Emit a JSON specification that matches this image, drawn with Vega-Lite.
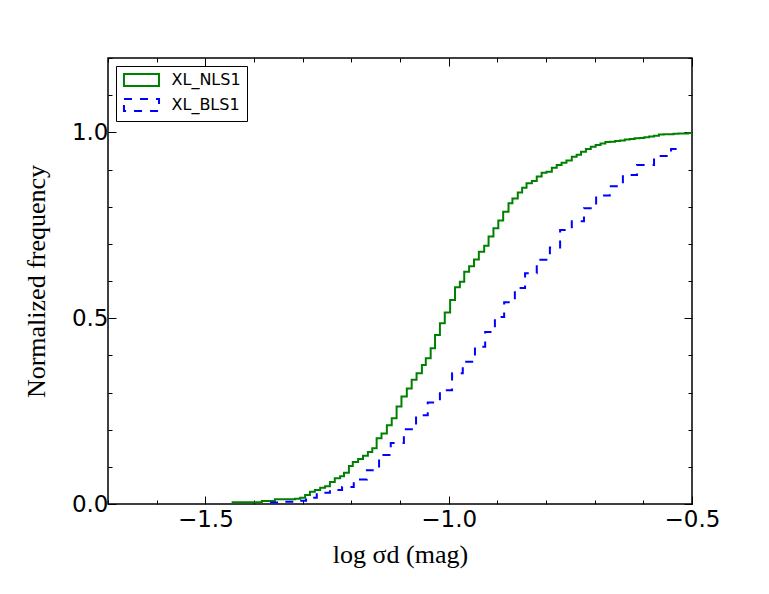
{
  "$schema": "https://vega.github.io/schema/vega-lite/v6.json",
  "width": 584,
  "height": 446,
  "autosize": {"type": "none"},
  "padding": {"left": 108, "top": 58, "right": 77, "bottom": 90},
  "background": "white",
  "config": {
    "view": {"stroke": "black", "strokeWidth": 1.5},
    "axis": {
      "domain": false,
      "grid": false,
      "tickColor": "black",
      "tickWidth": 1,
      "labelFont": "DejaVu Sans",
      "labelFontSize": 23,
      "labelColor": "black",
      "titleFont": "Liberation Serif",
      "titleFontSize": 26,
      "titleFontWeight": "normal",
      "titleColor": "black"
    }
  },
  "data": {
    "values": [
      {"series": "XL_NLS1", "x": -1.446, "y": 0.005},
      {"series": "XL_NLS1", "x": -1.384, "y": 0.008},
      {"series": "XL_NLS1", "x": -1.357, "y": 0.013},
      {"series": "XL_NLS1", "x": -1.316, "y": 0.014},
      {"series": "XL_NLS1", "x": -1.305, "y": 0.017},
      {"series": "XL_NLS1", "x": -1.295, "y": 0.024},
      {"series": "XL_NLS1", "x": -1.285, "y": 0.033},
      {"series": "XL_NLS1", "x": -1.275, "y": 0.038},
      {"series": "XL_NLS1", "x": -1.264, "y": 0.044},
      {"series": "XL_NLS1", "x": -1.254, "y": 0.048},
      {"series": "XL_NLS1", "x": -1.244, "y": 0.059},
      {"series": "XL_NLS1", "x": -1.234, "y": 0.069},
      {"series": "XL_NLS1", "x": -1.223, "y": 0.075},
      {"series": "XL_NLS1", "x": -1.215, "y": 0.084},
      {"series": "XL_NLS1", "x": -1.205, "y": 0.102},
      {"series": "XL_NLS1", "x": -1.197, "y": 0.113},
      {"series": "XL_NLS1", "x": -1.186, "y": 0.121},
      {"series": "XL_NLS1", "x": -1.176, "y": 0.130},
      {"series": "XL_NLS1", "x": -1.166, "y": 0.140},
      {"series": "XL_NLS1", "x": -1.157, "y": 0.150},
      {"series": "XL_NLS1", "x": -1.148, "y": 0.177},
      {"series": "XL_NLS1", "x": -1.138, "y": 0.190},
      {"series": "XL_NLS1", "x": -1.127, "y": 0.212},
      {"series": "XL_NLS1", "x": -1.117, "y": 0.231},
      {"series": "XL_NLS1", "x": -1.107, "y": 0.262},
      {"series": "XL_NLS1", "x": -1.097, "y": 0.289},
      {"series": "XL_NLS1", "x": -1.086, "y": 0.311},
      {"series": "XL_NLS1", "x": -1.076, "y": 0.334},
      {"series": "XL_NLS1", "x": -1.066, "y": 0.352},
      {"series": "XL_NLS1", "x": -1.055, "y": 0.374},
      {"series": "XL_NLS1", "x": -1.047, "y": 0.392},
      {"series": "XL_NLS1", "x": -1.037, "y": 0.419},
      {"series": "XL_NLS1", "x": -1.028, "y": 0.455},
      {"series": "XL_NLS1", "x": -1.018, "y": 0.486},
      {"series": "XL_NLS1", "x": -1.008, "y": 0.515},
      {"series": "XL_NLS1", "x": -0.997, "y": 0.549},
      {"series": "XL_NLS1", "x": -0.987, "y": 0.583},
      {"series": "XL_NLS1", "x": -0.977, "y": 0.598},
      {"series": "XL_NLS1", "x": -0.968, "y": 0.625},
      {"series": "XL_NLS1", "x": -0.958, "y": 0.640},
      {"series": "XL_NLS1", "x": -0.948, "y": 0.658},
      {"series": "XL_NLS1", "x": -0.938, "y": 0.679},
      {"series": "XL_NLS1", "x": -0.927, "y": 0.695},
      {"series": "XL_NLS1", "x": -0.918, "y": 0.720},
      {"series": "XL_NLS1", "x": -0.908, "y": 0.742},
      {"series": "XL_NLS1", "x": -0.898, "y": 0.763},
      {"series": "XL_NLS1", "x": -0.888, "y": 0.786},
      {"series": "XL_NLS1", "x": -0.877, "y": 0.809},
      {"series": "XL_NLS1", "x": -0.869, "y": 0.822},
      {"series": "XL_NLS1", "x": -0.858, "y": 0.838},
      {"series": "XL_NLS1", "x": -0.849, "y": 0.851},
      {"series": "XL_NLS1", "x": -0.840, "y": 0.863},
      {"series": "XL_NLS1", "x": -0.829, "y": 0.869},
      {"series": "XL_NLS1", "x": -0.819, "y": 0.881},
      {"series": "XL_NLS1", "x": -0.809, "y": 0.891},
      {"series": "XL_NLS1", "x": -0.799, "y": 0.894},
      {"series": "XL_NLS1", "x": -0.788, "y": 0.905},
      {"series": "XL_NLS1", "x": -0.778, "y": 0.912},
      {"series": "XL_NLS1", "x": -0.768, "y": 0.918},
      {"series": "XL_NLS1", "x": -0.758, "y": 0.924},
      {"series": "XL_NLS1", "x": -0.747, "y": 0.934},
      {"series": "XL_NLS1", "x": -0.737, "y": 0.940},
      {"series": "XL_NLS1", "x": -0.728, "y": 0.948},
      {"series": "XL_NLS1", "x": -0.718, "y": 0.955},
      {"series": "XL_NLS1", "x": -0.708, "y": 0.961},
      {"series": "XL_NLS1", "x": -0.698, "y": 0.966},
      {"series": "XL_NLS1", "x": -0.688, "y": 0.970},
      {"series": "XL_NLS1", "x": -0.678, "y": 0.974},
      {"series": "XL_NLS1", "x": -0.668, "y": 0.975},
      {"series": "XL_NLS1", "x": -0.658, "y": 0.977},
      {"series": "XL_NLS1", "x": -0.648, "y": 0.978},
      {"series": "XL_NLS1", "x": -0.638, "y": 0.981},
      {"series": "XL_NLS1", "x": -0.628, "y": 0.982},
      {"series": "XL_NLS1", "x": -0.618, "y": 0.984},
      {"series": "XL_NLS1", "x": -0.608, "y": 0.985},
      {"series": "XL_NLS1", "x": -0.598, "y": 0.987},
      {"series": "XL_NLS1", "x": -0.588, "y": 0.989},
      {"series": "XL_NLS1", "x": -0.578, "y": 0.991},
      {"series": "XL_NLS1", "x": -0.568, "y": 0.994},
      {"series": "XL_NLS1", "x": -0.558, "y": 0.995},
      {"series": "XL_NLS1", "x": -0.548, "y": 0.995},
      {"series": "XL_NLS1", "x": -0.538, "y": 0.996},
      {"series": "XL_NLS1", "x": -0.528, "y": 0.997},
      {"series": "XL_NLS1", "x": -0.518, "y": 0.997},
      {"series": "XL_NLS1", "x": -0.508, "y": 0.998},
      {"series": "XL_NLS1", "x": -0.5, "y": 1.0},
      {"series": "XL_BLS1", "x": -1.367, "y": 0.004},
      {"series": "XL_BLS1", "x": -1.342, "y": 0.006},
      {"series": "XL_BLS1", "x": -1.318, "y": 0.009},
      {"series": "XL_BLS1", "x": -1.293, "y": 0.017},
      {"series": "XL_BLS1", "x": -1.271, "y": 0.030},
      {"series": "XL_BLS1", "x": -1.244, "y": 0.038},
      {"series": "XL_BLS1", "x": -1.219, "y": 0.046},
      {"series": "XL_BLS1", "x": -1.195, "y": 0.066},
      {"series": "XL_BLS1", "x": -1.168, "y": 0.091},
      {"series": "XL_BLS1", "x": -1.143, "y": 0.132},
      {"series": "XL_BLS1", "x": -1.119, "y": 0.164},
      {"series": "XL_BLS1", "x": -1.092, "y": 0.201},
      {"series": "XL_BLS1", "x": -1.067, "y": 0.239},
      {"series": "XL_BLS1", "x": -1.043, "y": 0.273},
      {"series": "XL_BLS1", "x": -1.018, "y": 0.306},
      {"series": "XL_BLS1", "x": -0.993, "y": 0.352},
      {"series": "XL_BLS1", "x": -0.971, "y": 0.383},
      {"series": "XL_BLS1", "x": -0.946, "y": 0.423},
      {"series": "XL_BLS1", "x": -0.925, "y": 0.463},
      {"series": "XL_BLS1", "x": -0.905, "y": 0.503},
      {"series": "XL_BLS1", "x": -0.886, "y": 0.543},
      {"series": "XL_BLS1", "x": -0.864, "y": 0.581},
      {"series": "XL_BLS1", "x": -0.843, "y": 0.621},
      {"series": "XL_BLS1", "x": -0.819, "y": 0.657},
      {"series": "XL_BLS1", "x": -0.792, "y": 0.690},
      {"series": "XL_BLS1", "x": -0.771, "y": 0.737},
      {"series": "XL_BLS1", "x": -0.747, "y": 0.761},
      {"series": "XL_BLS1", "x": -0.722, "y": 0.796},
      {"series": "XL_BLS1", "x": -0.697, "y": 0.830},
      {"series": "XL_BLS1", "x": -0.669, "y": 0.855},
      {"series": "XL_BLS1", "x": -0.642, "y": 0.885},
      {"series": "XL_BLS1", "x": -0.613, "y": 0.912},
      {"series": "XL_BLS1", "x": -0.578, "y": 0.936},
      {"series": "XL_BLS1", "x": -0.543, "y": 0.955},
      {"series": "XL_BLS1", "x": -0.518, "y": 0.955}
    ]
  },
  "layer": [
    {
      "mark": {"type": "line", "interpolate": "step-after", "strokeWidth": 2, "clip": true},
      "encoding": {
        "x": {
          "field": "x", "type": "quantitative",
          "scale": {"domain": [-1.7, -0.5], "nice": false, "zero": false},
          "axis": {
            "orient": "bottom",
            "title": "log σd (mag)",
            "values": [-1.7, -1.6, -1.5, -1.4, -1.3, -1.2, -1.1, -1.0, -0.9, -0.8, -0.7, -0.6, -0.5],
            "tickSize": {"condition": {"test": "datum.value == -1.5 || datum.value == -1 || datum.value == -0.5", "value": -8}, "value": -4},
            "labelExpr": "(datum.value == -1.5 || datum.value == -1 || datum.value == -0.5) ? format(datum.value, '.1f') : ''",
            "labelPadding": 12,
            "labelFlush": false,
            "labelOverlap": false,
            "titlePadding": 6
          }
        },
        "y": {
          "field": "y", "type": "quantitative",
          "scale": {"domain": [0, 1.2], "nice": false},
          "axis": {
            "orient": "left",
            "title": "Normalized frequency",
            "values": [0, 0.1, 0.2, 0.3, 0.4, 0.5, 0.6, 0.7, 0.8, 0.9, 1.0, 1.1, 1.2],
            "tickSize": {"condition": {"test": "datum.value == 0 || datum.value == 0.5 || datum.value == 1", "value": -8}, "value": -4},
            "labelExpr": "(datum.value == 0 || datum.value == 0.5 || datum.value == 1) ? format(datum.value, '.1f') : ''",
            "labelPadding": 8,
            "labelFlush": false,
            "labelOverlap": false,
            "titlePadding": 22
          }
        },
        "color": {
          "field": "series", "type": "nominal",
          "scale": {"domain": ["XL_NLS1", "XL_BLS1"], "range": ["#008000", "#0000ff"]},
          "legend": {
            "title": null,
            "orient": "top-left",
            "offset": 8,
            "strokeColor": "black",
            "fillColor": "white",
            "padding": 6,
            "symbolType": "M-2.92,-1H2.92V1H-2.92Z",
            "symbolSize": 144,
            "symbolOffset": 11.5,
            "symbolStrokeWidth": 2,
            "symbolFillColor": "transparent",
            "labelFont": "DejaVu Sans",
            "labelFontSize": 16,
            "labelColor": "black",
            "labelOffset": 22,
            "rowPadding": 5
          }
        },
        "strokeDash": {
          "field": "series", "type": "nominal",
          "scale": {"domain": ["XL_NLS1", "XL_BLS1"], "range": [[1, 0], [8, 8]]},
          "legend": {
            "title": null,
            "orient": "top-left",
            "offset": 8,
            "strokeColor": "black",
            "fillColor": "white",
            "padding": 6,
            "symbolType": "M-2.92,-1H2.92V1H-2.92Z",
            "symbolSize": 144,
            "symbolOffset": 11.5,
            "symbolStrokeWidth": 2,
            "symbolFillColor": "transparent",
            "labelFont": "DejaVu Sans",
            "labelFontSize": 16,
            "labelColor": "black",
            "labelOffset": 22,
            "rowPadding": 5
          }
        }
      }
    },
    {
      "mark": {"type": "line", "opacity": 0},
      "encoding": {
        "x": {
          "field": "x", "type": "quantitative",
          "axis": {
            "orient": "top",
            "title": null,
            "labels": false,
            "values": [-1.7, -1.6, -1.5, -1.4, -1.3, -1.2, -1.1, -1.0, -0.9, -0.8, -0.7, -0.6, -0.5],
            "tickSize": {"condition": {"test": "datum.value == -1.5 || datum.value == -1 || datum.value == -0.5", "value": -8}, "value": -4}
          }
        },
        "y": {
          "field": "y", "type": "quantitative",
          "axis": {
            "orient": "right",
            "title": null,
            "labels": false,
            "values": [0, 0.1, 0.2, 0.3, 0.4, 0.5, 0.6, 0.7, 0.8, 0.9, 1.0, 1.1, 1.2],
            "tickSize": {"condition": {"test": "datum.value == 0 || datum.value == 0.5 || datum.value == 1", "value": -8}, "value": -4}
          }
        },
        "detail": {"field": "series", "type": "nominal"}
      }
    }
  ],
  "resolve": {"axis": {"x": "independent", "y": "independent"}}
}
